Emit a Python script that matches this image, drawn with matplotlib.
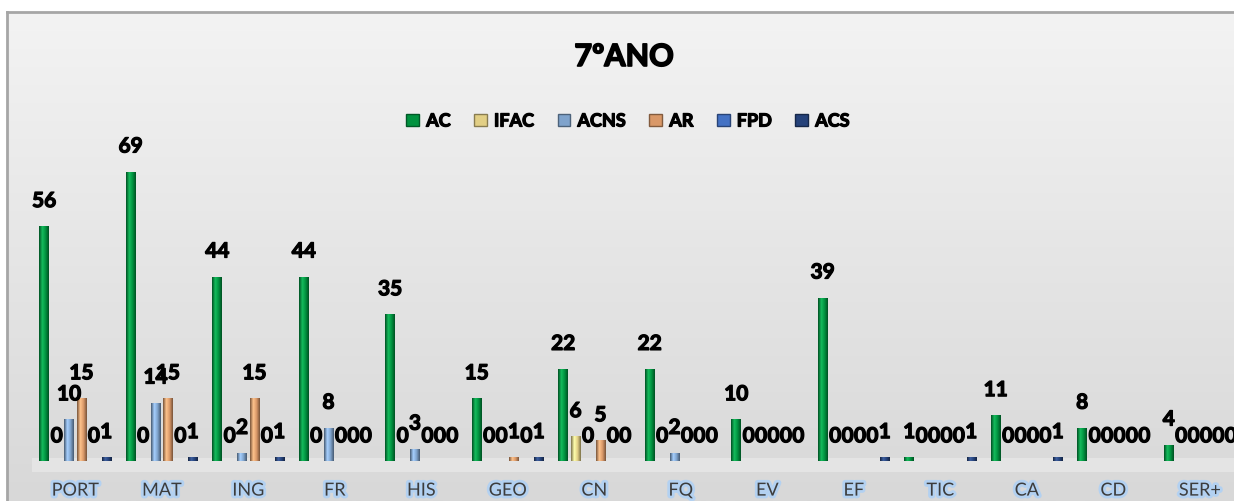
"""7ºANO - counts per subject, grouped bars."""
import numpy as np
import matplotlib.pyplot as plt
import matplotlib.patheffects as pe
from matplotlib.colors import LinearSegmentedColormap, to_rgb
from matplotlib.patches import Patch, Rectangle

categories = ['PORT', 'MAT', 'ING', 'FR', 'HIS', 'GEO', 'CN', 'FQ',
              'EV', 'EF', 'TIC', 'CA', 'CD', 'SER+']
ac   = [56, 69, 44, 44, 35, 15, 22, 22, 10, 39, 1, 11, 8, 4]
ifac = [0, 0, 0, 0, 0, 0, 6, 0, 0, 0, 0, 0, 0, 0]
acns = [10, 14, 2, 8, 3, 0, 0, 2, 0, 0, 0, 0, 0, 0]
ar   = [15, 15, 15, 0, 0, 1, 5, 0, 0, 0, 0, 0, 0, 0]
fpd  = [0, 0, 0, 0, 0, 0, 0, 0, 0, 0, 0, 0, 0, 0]
acs  = [1, 1, 1, 0, 0, 1, 0, 0, 0, 1, 1, 1, 0, 0]

series = ['AC', 'IFAC', 'ACNS', 'AR', 'FPD', 'ACS']
values = [ac, ifac, acns, ar, fpd, acs]
colors = ['#00923f', '#e2cf85', '#7fa3cc', '#d99868', '#4472c4', '#25427a']

FONT = 'Lato'
W, H = 1234, 501
fig = plt.figure(figsize=(W / 100, H / 100), dpi=100)
fig.patch.set_facecolor('white')

# heavier strokes for the bold texts
heavy = [pe.withStroke(linewidth=0.9, foreground='black')]

# chart area: grey gradient panel with a border on the left/top
bg = fig.add_axes([7 / W, 0, 1 - 7 / W, 1 - 12 / H], zorder=0)
grad = np.linspace(0, 1, 256).reshape(-1, 1)
bg_cmap = LinearSegmentedColormap.from_list('bg', ['#f3f3f3', '#d8d8d8'])
bg.imshow(grad, aspect='auto', cmap=bg_cmap, extent=[0, 1, 0, 1], origin='upper')
bg.set_xticks([]); bg.set_yticks([])
for side in ['right', 'bottom']:
    bg.spines[side].set_visible(False)
for side in ['left', 'top']:
    bg.spines[side].set_color('#a6a6a6')
    bg.spines[side].set_linewidth(2)

# floor strip under the bars
fig.patches.append(Rectangle((32 / W, (H - 472) / H), 1, 14 / H,
                             transform=fig.transFigure, facecolor='#e4e4e4',
                             edgecolor='none', zorder=1))

ax = fig.add_axes([32 / W, (H - 458) / H, 14 * 86.5 / W, 332.7 / H], zorder=2)
ax.patch.set_alpha(0)

x = np.arange(len(categories))
slot = 0.1434
bw = 0.11
for k, (name, vals, col) in enumerate(zip(series, values, colors)):
    pos = x + (k - 2.5) * slot
    bars = ax.bar(pos, vals, width=bw, color=col, edgecolor='none', zorder=3)
    base = np.array(to_rgb(col))
    dark = base * 0.55
    light = np.clip(base * 1.15 + 0.08, 0, 1)
    cmap = LinearSegmentedColormap.from_list(name, [dark, light, base, dark])
    for b, v in zip(bars, vals):
        if v > 0:
            im = ax.imshow(np.linspace(0, 1, 64).reshape(1, -1), cmap=cmap,
                           aspect='auto', zorder=3,
                           extent=[b.get_x(), b.get_x() + b.get_width(), 0, v])
            im.set_clip_path(b)
        ax.annotate(str(v), (b.get_x() + b.get_width() / 2, v),
                    xytext=(0, 13.7), textcoords='offset points',
                    ha='center', va='baseline', fontsize=15,
                    fontweight='bold', family=FONT, color='black', zorder=5,
                    annotation_clip=False, path_effects=heavy)

ax.set_xlim(-0.5, len(categories) - 0.5)
ax.set_ylim(0.8, 80)
ax.set_xticks([]); ax.set_yticks([])
for s in ax.spines.values():
    s.set_visible(False)

glow = [pe.withStroke(linewidth=4, foreground='#b3d1f1')]
for i, c in enumerate(categories):
    ax.text(i, -0.098, c, transform=ax.get_xaxis_transform(), ha='center',
            va='center', fontsize=13, family=FONT, color='#3c3c3c',
            path_effects=glow)

fig.text(624 / W, 1 - 57 / H, '7ºANO', ha='center', va='center',
         fontsize=22, fontweight='bold', family=FONT,
         path_effects=[pe.withStroke(linewidth=1.2, foreground='black')])

handles = [Patch(facecolor=c, edgecolor=tuple(np.array(to_rgb(c)) * 0.6), label=n)
           for n, c in zip(series, colors)]
leg = fig.legend(handles=handles, loc='center',
                 bbox_to_anchor=(628 / W, 1 - 121 / H),
                 ncol=6, frameon=False, handlelength=0.7, handleheight=0.7,
                 handletextpad=0.4, columnspacing=1.3,
                 prop={'family': FONT, 'weight': 'bold', 'size': 13})
for t in leg.get_texts():
    t.set_path_effects(heavy)

fig.savefig('out.png', dpi=100)
